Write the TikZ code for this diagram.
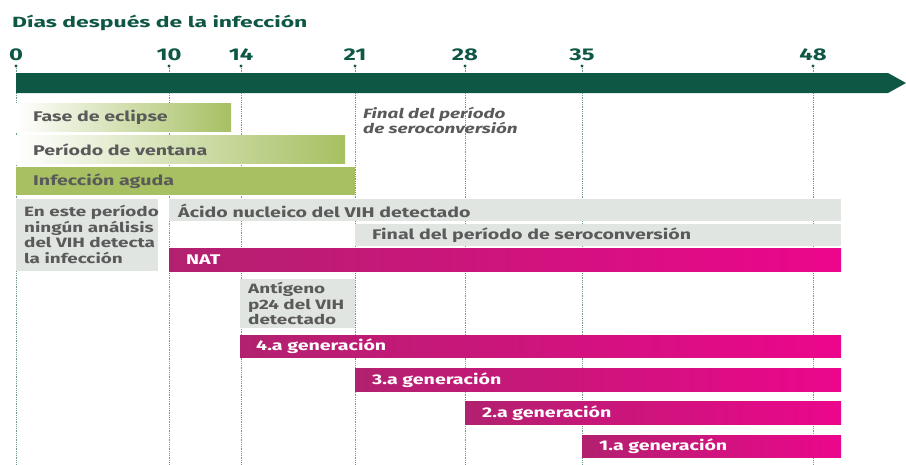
\documentclass[tikz,border=0pt]{standalone}
\usepackage{fontspec}
\setmainfont{Fira Sans}[FakeStretch=1.4]
\newfontfamily\titulofont{Fira Sans}[FakeStretch=1.55]
\usepackage{xcolor}
\usepackage{tikz}

\definecolor{verdeOscuro}{HTML}{0F5745}
\definecolor{verdeClaro}{HTML}{A6C062}
\definecolor{grisCaja}{HTML}{E1E5E1}
\definecolor{grisTexto}{HTML}{5A5A5A}
\definecolor{magentaIzq}{HTML}{B2216F}
\definecolor{magentaDer}{HTML}{EC068C}
\definecolor{puntos}{HTML}{6F9A8A}

\tikzset{
  etiqueta/.style={anchor=west, inner sep=0pt, text=grisTexto,
    font=\bfseries\fontsize{14}{16}\selectfont},
  blanca/.style={etiqueta, text=white},
  dia/.style={inner sep=0pt, text=verdeOscuro, font=\bfseries\fontsize{17}{19}\selectfont},
  barraverde/.style={left color=white, right color=verdeClaro},
  barramagenta/.style={left color=magentaIzq, right color=magentaDer},
  guia/.style={puntos, densely dotted, line width=0.8pt}
}

\begin{document}
\begin{tikzpicture}[x=1pt, y=-1pt]
  \useasboundingbox (0,0) rectangle (906,464);

  % titulo
  \node[anchor=west, inner sep=0pt, text=verdeOscuro, font=\titulofont\bfseries\fontsize{14.8}{17}\selectfont]
    (titulo) at (12,23) {Días después de la infección};

  % dias y lineas guia
  \foreach \d/\x in {0/16, 10/169, 14/241, 21/355, 28/465, 35/582, 48/813} {
    \node[dia] (d\d) at (\x,55) {\d};
    \draw[guia] (\x,66) -- (\x,73);
    \fill[verdeOscuro] (\x,66) circle (1.6);
    \draw[guia] (\x,93) -- (\x,464);
  }

  % flecha del tiempo
  \fill[verdeOscuro] (16,73) -- (888,73) -- (906,83) -- (888,93) -- (16,93) -- cycle;

  % fases
  \shade[barraverde] (16,103) rectangle (231,131);
  \node[etiqueta] (eclipse) at (33,117.5) {Fase de eclipse};
  \shade[barraverde] (16,135) rectangle (345,163);
  \node[etiqueta] (ventana) at (33,149.5) {Período de ventana};
  \fill[verdeClaro] (16,167) rectangle (355,195);
  \node[etiqueta] (aguda) at (33,181.5) {Infección aguda};

  \node[anchor=north west, inner sep=0pt, text=grisTexto, font=\bfseries\itshape\fontsize{13.5}{15}\selectfont,
    align=left] (finalsero) at (363,107) {Final del período\\de seroconversión};

  % cajas grises
  \fill[grisCaja] (16,199) rectangle (158,271);
  \node[etiqueta, anchor=north west, align=left, font=\bfseries\fontsize{13.5}{15.7}\selectfont]
    (ningun) at (24,205) {En este período\\ningún análisis\\del VIH detecta\\la infección};
  \fill[grisCaja] (169,199) rectangle (841,221);
  \node[etiqueta] (acido) at (178,210.5) {Ácido nucleico del VIH detectado};
  \fill[grisCaja] (355,224) rectangle (841,246);
  \node[etiqueta] (finalgris) at (372,235.5) {Final del período de seroconversión};
  \fill[grisCaja] (240,279) rectangle (355,328);
  \node[etiqueta, anchor=north west, align=left, font=\bfseries\fontsize{13.5}{15.7}\selectfont]
    (p24) at (248,282) {Antígeno\\p24 del VIH\\detectado};

  % pruebas
  \shade[barramagenta] (169,248) rectangle (841,271);
  \node[blanca] (nat) at (186,260) {NAT};
  \shade[barramagenta] (240,335) rectangle (841,357);
  \node[blanca] (cuarta) at (256,346.5) {4.a generación};
  \shade[barramagenta] (355,368) rectangle (841,391);
  \node[blanca] (tercera) at (372,380) {3.a generación};
  \shade[barramagenta] (465,401) rectangle (841,424);
  \node[blanca] (segunda) at (482,413) {2.a generación};
  \shade[barramagenta] (582,435) rectangle (841,457);
  \node[blanca] (primera) at (599,446.5) {1.a generación};
\end{tikzpicture}
\end{document}
